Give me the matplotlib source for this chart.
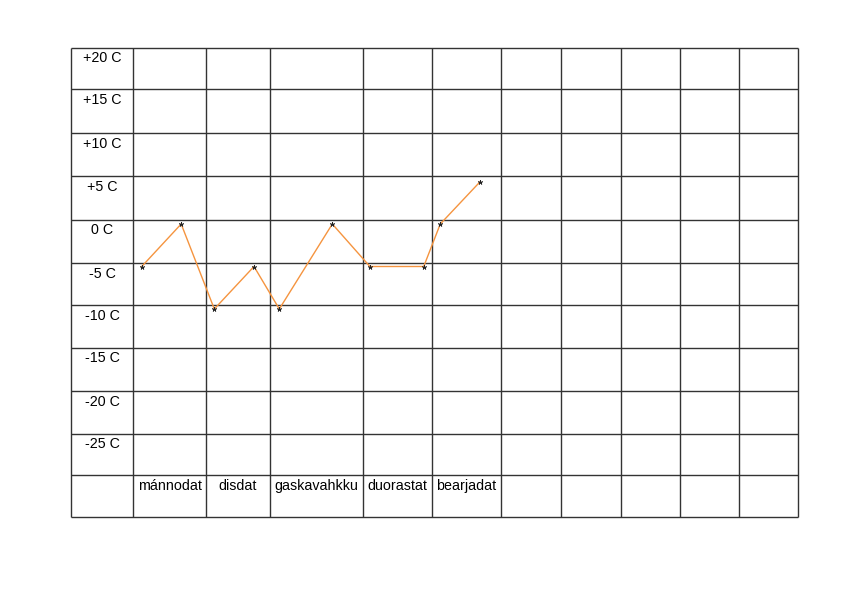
import numpy as np
import matplotlib.pyplot as plt

plt.rcParams['font.family'] = ['Liberation Sans', 'DejaVu Sans']

# table layout (pixels)
col_edges = [71, 133, 206, 270, 363, 432, 501, 561, 621, 680, 739, 798]
row_edges = [47.7, 89.3, 133, 176.3, 219.7, 263.3, 305, 348, 391, 434, 475.3, 516.5]

# data
temp_labels = ['+20 C', '+15 C', '+10 C', '+5 C', '0 C', '-5 C',
               '-10 C', '-15 C', '-20 C', '-25 C']
days = ['mánnodat', 'disdat', 'gaskavahkku', 'duorastat', 'bearjadat']
day_idx = [0, 0, 1, 1, 2, 2, 3, 3, 4, 4]
day_frac = [0.12, 0.66, 0.13, 0.75, 0.1, 0.67, 0.1, 0.88, 0.12, 0.7]
temps = [-5, 0, -10, -5, -10, 0, -5, -5, 0, 5]

fig = plt.figure(figsize=(8.42, 5.95), dpi=100)
ax = fig.add_axes([0, 0, 1, 1])
ax.set_xlim(0, 842)
ax.set_ylim(595, 0)
ax.axis('off')

ax.vlines(col_edges, row_edges[0], row_edges[-1], color='#333333', lw=1)
ax.hlines(row_edges, col_edges[0], col_edges[-1], color='#333333', lw=1)

cx0 = (col_edges[0] + col_edges[1]) / 2
for i, lab in enumerate(temp_labels):
    ax.text(cx0, row_edges[i] + 10.5, lab, ha='center', va='center', fontsize=10.3)
for i, d in enumerate(days):
    cx = (col_edges[i + 1] + col_edges[i + 2]) / 2
    ax.text(cx, row_edges[-2] + 11, d, ha='center', va='center', fontsize=10.3)

# temperature axes: 0 C at 224 px, 8.5 px per degree
px0, ppd = 224, 8.5
ax2 = fig.add_axes([0, 0, 1, 1], sharex=ax)
ax2.set_ylim((px0 - 595) / ppd, px0 / ppd)
ax2.axis('off')
ax2.patch.set_visible(False)

xs = np.interp(np.array(day_idx) + 1 + np.array(day_frac),
               np.arange(len(col_edges)), col_edges)
ax2.plot(xs, temps, color='#f5943f', lw=1)
ax2.plot(xs, temps, ls='none', marker=(5, 2, 0), ms=3.5, color='#222222', mew=0.5)

fig.savefig('out.png', dpi=100)
